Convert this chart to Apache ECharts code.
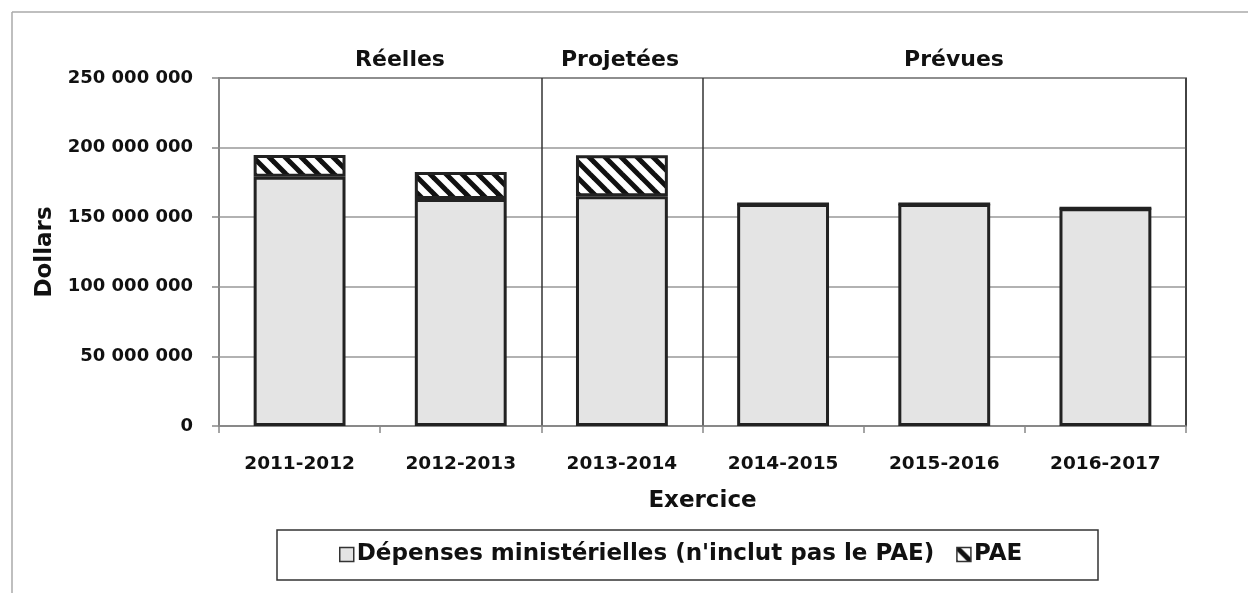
<!DOCTYPE html>
<html><head><meta charset="utf-8">
<script src="https://cdn.jsdelivr.net/npm/echarts@6/dist/echarts.min.js"></script>
<style>html,body{margin:0;padding:0;background:#fff}#c{width:1248px;height:593px}</style>
</head><body><div id="c"></div>
<script>
const categories = ['2011-2012','2012-2013','2013-2014','2014-2015','2015-2016','2016-2017'];
const depenses = [179000000, 163000000, 165000000, 159500000, 159500000, 156500000];
const pae = [15700000, 19500000, 29500000, 0, 0, 0];
const yTicks = [0, 50000000, 100000000, 150000000, 200000000, 250000000];
const sections = ['Réelles', 'Projetées', 'Prévues'];
const seriesNames = ["Dépenses ministérielles (n'inclut pas le PAE)", 'PAE'];

const FONT = 'DejaVu Sans';
function hatch() {
  const s = 16, c = document.createElement('canvas');
  c.width = s; c.height = s;
  const g = c.getContext('2d');
  g.fillStyle = '#fff'; g.fillRect(0,0,s,s);
  g.strokeStyle = '#111'; g.lineWidth = 5; g.lineCap = 'square';
  for (const o of [-s, 0, s]) { g.beginPath(); g.moveTo(o - 4, -4); g.lineTo(o + s + 4, s + 4); g.stroke(); }
  return c;
}
const pat = { image: hatch(), repeat: 'repeat' };
const fmt = v => String(v).replace(/\B(?=(\d{3})+(?!\d))/g, ' ');
const secFont = 'bold 22px "DejaVu Sans"';

const chart = echarts.init(document.getElementById('c'));
chart.setOption({
  animation: false,
  textStyle: { fontFamily: FONT },
  grid: { left: 219, right: 62, top: 78, bottom: 167, show: true, borderColor: '#444', borderWidth: 1.5 },
  xAxis: {
    type: 'category', data: categories,
    name: 'Exercice', nameLocation: 'middle', nameGap: 64,
    nameTextStyle: { fontFamily: FONT, fontWeight: 'bold', fontSize: 23, color: '#111' },
    axisLine: { lineStyle: { color: '#888', width: 1.5 } },
    axisTick: { show: true, length: 7, lineStyle: { color: '#888', width: 1.5 } },
    axisLabel: { fontFamily: FONT, fontWeight: 'bold', fontSize: 18.5, color: '#111', margin: 29 },
    splitLine: { show: true, interval: (i) => i === 2 || i === 3, lineStyle: { color: '#333', width: 1.5 } }
  },
  yAxis: {
    type: 'value', min: 0, max: 250000000, interval: 50000000,
    name: 'Dollars', nameLocation: 'middle', nameGap: 162, nameRotate: 90,
    nameTextStyle: { fontFamily: FONT, fontWeight: 'bold', fontSize: 23, color: '#111' },
    axisLine: { show: true, lineStyle: { color: '#888', width: 1.5 } },
    axisTick: { show: true, length: 7, lineStyle: { color: '#888', width: 1.5 } },
    axisLabel: { fontFamily: FONT, fontWeight: 'bold', fontSize: 18, color: '#111', margin: 26,
      formatter: v => yTicks.includes(v) ? fmt(v) : '' },
    splitLine: { lineStyle: { color: '#999', width: 1.5 } }
  },
  legend: {
    top: 538, left: 334,
    itemWidth: 14, itemHeight: 14, itemGap: 22,
    textStyle: { fontFamily: FONT, fontWeight: 'bold', fontSize: 23, color: '#111', padding: [0,0,0,-2] },
    data: [
      { name: seriesNames[0], icon: 'rect', itemStyle: { color: '#e4e4e4', borderColor: '#333', borderWidth: 1.5 } },
      { name: seriesNames[1], icon: 'rect', itemStyle: { color: pat, borderColor: '#333', borderWidth: 1.5 } }
    ]
  },
  graphic: [
    { type: 'line', shape: { x1: 12, y1: 12, x2: 1248, y2: 12 }, style: { stroke: '#aaa', lineWidth: 1.5 } },
    { type: 'line', shape: { x1: 12, y1: 12, x2: 12, y2: 593 }, style: { stroke: '#aaa', lineWidth: 1.5 } },
    { type: 'rect', shape: { x: 277, y: 530, width: 821, height: 50 }, style: { fill: 'none', stroke: '#333', lineWidth: 1.5 }, z: -1 },
    { type: 'text', x: 400, y: 60, style: { text: sections[0], font: secFont, fill: '#111', textAlign: 'center', textVerticalAlign: 'middle' } },
    { type: 'text', x: 620, y: 60, style: { text: sections[1], font: secFont, fill: '#111', textAlign: 'center', textVerticalAlign: 'middle' } },
    { type: 'text', x: 954, y: 60, style: { text: sections[2], font: secFont, fill: '#111', textAlign: 'center', textVerticalAlign: 'middle' } }
  ],
  series: [
    { name: seriesNames[0], type: 'bar', stack: 't', data: depenses, barWidth: '57%',
      itemStyle: { color: '#e4e4e4', borderColor: '#222', borderWidth: 3 } },
    { name: seriesNames[1], type: 'bar', stack: 't', data: pae, barWidth: '57%',
      itemStyle: { color: pat, borderColor: '#222', borderWidth: 3 } }
  ]
});
</script></body></html>
